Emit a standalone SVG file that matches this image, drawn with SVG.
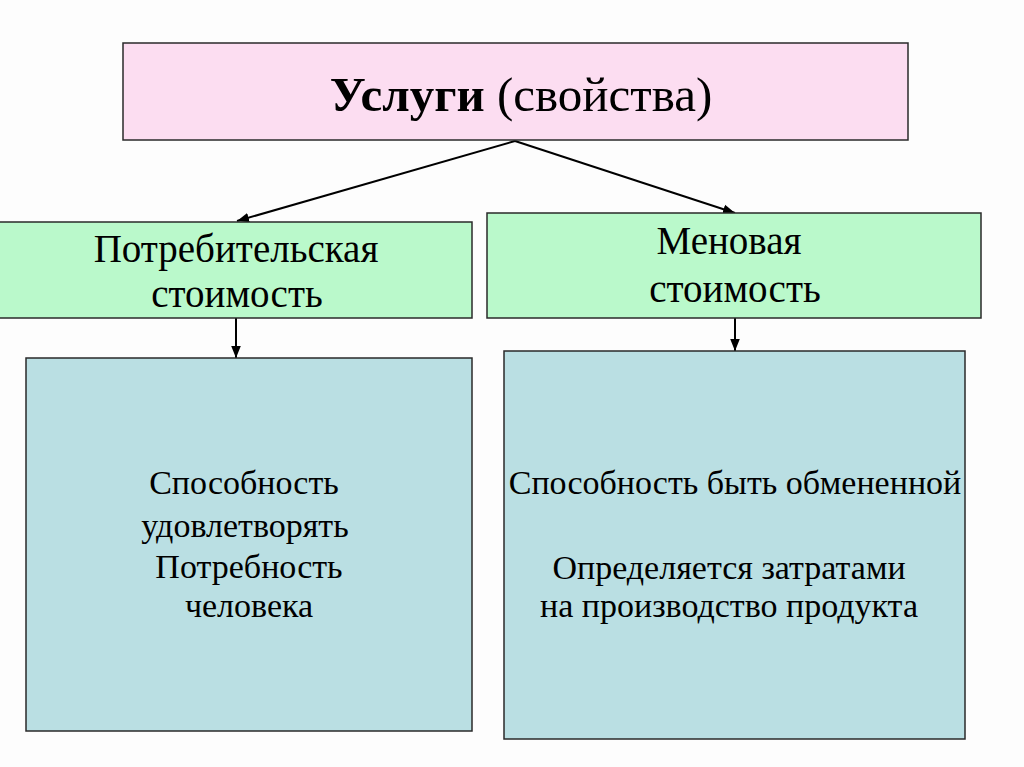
<svg xmlns="http://www.w3.org/2000/svg" width="1024" height="767" viewBox="0 0 1024 767">
<style>
.box{stroke:#2a2a2a;stroke-width:1.5}
.pink{fill:#FCDDF1}
.green{fill:#BAF9CB}
.blue{fill:#BADFE3}
text{font-family:"Liberation Serif","Times New Roman",serif;fill:#000;text-anchor:middle}
.t1{font-size:49px}
.t2{font-size:39px}
.t3{font-size:34px}
.conn{stroke:#000;stroke-width:2;fill:none}
</style>
<defs>
<marker id="arr" viewBox="0 0 10 10" refX="10" refY="5" markerWidth="6" markerHeight="6" markerUnits="strokeWidth" orient="auto">
<path d="M0,1 L10,5 L0,9 z" fill="#000"/>
</marker>
</defs>
<rect x="0" y="0" width="1024" height="767" fill="#FDFDFD"/>
<g id="connectors">
<line class="conn" x1="515" y1="141" x2="237" y2="221" marker-end="url(#arr)"/>
<line class="conn" x1="515" y1="141" x2="735" y2="213" marker-end="url(#arr)"/>
<line class="conn" x1="236" y1="318" x2="236" y2="358" marker-end="url(#arr)"/>
<line class="conn" x1="735" y1="318" x2="735" y2="351" marker-end="url(#arr)"/>
</g>
<g id="node-services">
<rect class="box pink" x="123" y="43" width="785" height="97"/>
<text class="t1" x="521" y="111"><tspan font-weight="bold">Услуги</tspan> (свойства)</text>
</g>
<g id="node-use-value">
<rect class="box green" x="-1" y="222" width="473" height="96"/>
<text class="t2" x="236" y="262">Потребительская</text>
<text class="t2" x="237" y="307">стоимость</text>
</g>
<g id="node-exchange-value">
<rect class="box green" x="487" y="213" width="494" height="105"/>
<text class="t2" x="729" y="254">Меновая</text>
<text class="t2" x="735" y="302">стоимость</text>
</g>
<g id="node-use-desc">
<rect class="box blue" x="26" y="358" width="446" height="373"/>
<text class="t3" x="244" y="494">Способность</text>
<text class="t3" x="245" y="537">удовлетворять</text>
<text class="t3" x="249" y="578">Потребность</text>
<text class="t3" x="249" y="617">человека</text>
</g>
<g id="node-exchange-desc">
<rect class="box blue" x="504" y="351" width="461" height="388"/>
<text class="t3" x="735" y="494">Способность быть обмененной</text>
<text class="t3" x="729" y="579">Определяется затратами</text>
<text class="t3" x="729" y="617">на производство продукта</text>
</g>
</svg>
